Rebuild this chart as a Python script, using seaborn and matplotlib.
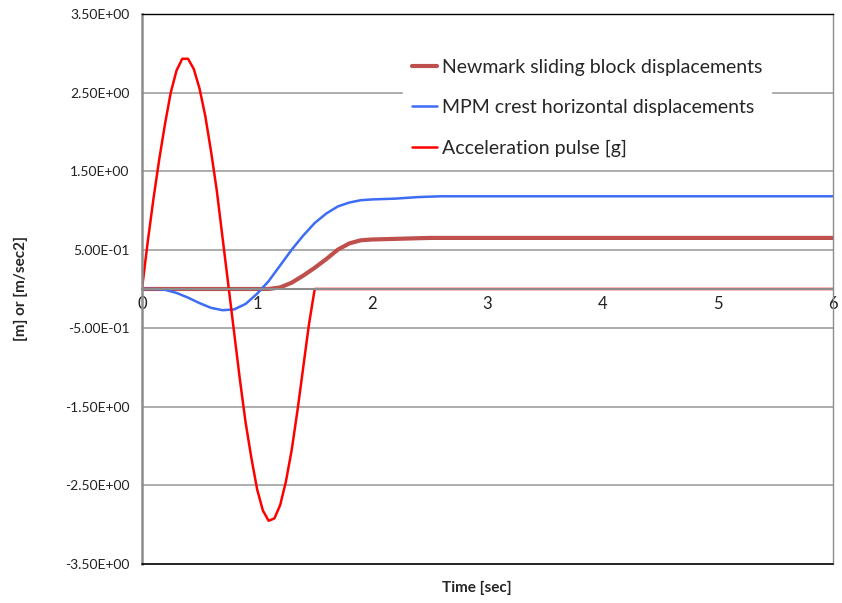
import pandas as pd
import matplotlib
matplotlib.use("Agg")
import matplotlib.pyplot as plt
import seaborn as sns

# values
accel_t = [0.00, 0.05, 0.10, 0.15, 0.20, 0.25, 0.30, 0.35, 0.40, 0.45, 0.50,
           0.55, 0.60, 0.65, 0.70, 0.75, 0.80, 0.85, 0.90, 0.95, 1.00, 1.05,
           1.10, 1.15, 1.20, 1.25, 1.30, 1.35, 1.40, 1.45, 1.50, 6.00]
accel_g = [0.00, 0.60, 1.15, 1.65, 2.10, 2.50, 2.78, 2.93, 2.93, 2.80, 2.55,
           2.20, 1.75, 1.25, 0.65, 0.05, -0.55, -1.15, -1.70, -2.15, -2.55, -2.82,
           -2.95, -2.92, -2.75, -2.45, -2.05, -1.55, -1.00, -0.45, 0.00, 0.00]

mpm_t = [0.0, 0.1, 0.2, 0.3, 0.4, 0.5, 0.6, 0.7, 0.8, 0.9, 1.0, 1.1, 1.2, 1.3,
         1.4, 1.5, 1.6, 1.7, 1.8, 1.9, 2.0, 2.2, 2.4, 2.6, 3.0, 6.0]
mpm_d = [0.00, 0.00, -0.01, -0.05, -0.11, -0.18, -0.24, -0.27, -0.26, -0.19, -0.06,
         0.10, 0.30, 0.50, 0.68, 0.84, 0.96, 1.05, 1.10, 1.13, 1.14, 1.15, 1.17,
         1.18, 1.18, 1.18]

newmark_t = [0.0, 1.1, 1.2, 1.3, 1.4, 1.5, 1.6, 1.7, 1.8, 1.9, 2.0, 2.5, 6.0]
newmark_d = [0.00, 0.00, 0.02, 0.08, 0.17, 0.27, 0.38, 0.50, 0.58, 0.62, 0.63, 0.65, 0.65]

x_ticks = [0, 1, 2, 3, 4, 5, 6]
y_ticks = [-3.5, -2.5, -1.5, -0.5, 0.5, 1.5, 2.5, 3.5]

sns.set_style("white")
plt.rcParams['font.family'] = ['Lato', 'DejaVu Sans']

fig, ax = plt.subplots(figsize=(8.42, 6.03), dpi=100)
fig.subplots_adjust(left=0.1686, right=0.9893, top=0.9768, bottom=0.0647)

# horizontal grid
for y in y_ticks[1:-1]:
    ax.axhline(y, color="#a6a6a6", lw=1.3, zorder=0)

sns.lineplot(x=newmark_t, y=newmark_d, ax=ax, color="#bf4f4c", lw=3,
             label="Newmark sliding block displacements", sort=False)
sns.lineplot(x=mpm_t, y=mpm_d, ax=ax, color="#3d6cf5", lw=1.8,
             label="MPM crest horizontal displacements", sort=False)
sns.lineplot(x=accel_t, y=accel_g, ax=ax, color="#ff0000", lw=1.8,
             label="Acceleration pulse [g]", sort=False)

ax.set_xlim(0, 6)
ax.set_ylim(-3.5, 3.5)

# x axis crosses at zero, like the Excel chart
ax.spines['bottom'].set_position(('data', 0))
ax.spines['bottom'].set_color("#8c8c8c")
ax.spines['bottom'].set_linewidth(1.5)
ax.spines['left'].set_color("#8c8c8c")
ax.spines['left'].set_linewidth(1.8)
ax.spines['right'].set_color("#8c8c8c")
ax.spines['right'].set_linewidth(1.0)
ax.spines['top'].set_color("black")
ax.spines['top'].set_linewidth(1.0)
ax.axhline(-3.5, color="black", lw=1.2, clip_on=False, zorder=3)

ax.set_xticks(x_ticks)
ax.set_xticklabels([str(t) for t in x_ticks], fontsize=12, color="#222222")
ax.set_yticks(y_ticks)
ax.set_yticklabels(["%.2E" % v for v in y_ticks], fontsize=10, color="#222222")
ax.tick_params(axis="x", direction="out", length=5, width=1, color="#8c8c8c", pad=0)
ax.tick_params(axis="y", direction="out", length=6, width=1, color="#8c8c8c", pad=3)

ax.set_xlabel("Time [sec]", fontsize=11, fontweight="bold", va="center")
ax.xaxis.set_label_coords(0.485, -0.044)
ax.set_ylabel("[m] or [m/sec2]", fontsize=11, fontweight="bold")
ax.yaxis.set_label_coords(-0.165, 0.5)

leg = ax.legend(loc="upper left", bbox_to_anchor=(0.364, 0.952), frameon=True,
                fontsize=14, handlelength=1.3, handletextpad=0.25,
                labelspacing=1.2, borderpad=0.45)
leg.get_frame().set_edgecolor("white")
leg.get_frame().set_facecolor("white")
leg.get_frame().set_alpha(1)
leg.get_frame().set_boxstyle("square", pad=0)

fig.savefig("out.png", dpi=100)
